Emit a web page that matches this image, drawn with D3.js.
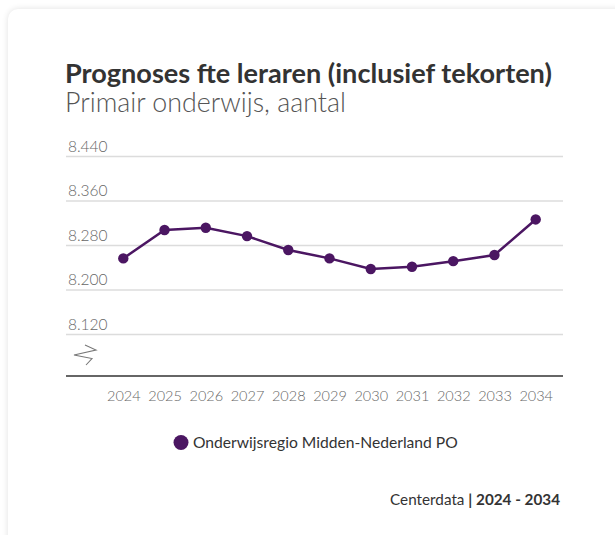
<!DOCTYPE html>
<html>
<head>
<meta charset="utf-8">
<script src="https://cdn.jsdelivr.net/npm/d3@7"></script>
<style>
  html, body { margin: 0; padding: 0; background: #ffffff; width: 615px; height: 535px; overflow: hidden; }
  #card { position: absolute; left: 8px; top: 9px; width: 640px; height: 560px; background: #fff;
          border-radius: 10px; box-shadow: 0 0 6px rgba(0,0,0,0.12); }
  svg { position: absolute; left: 0; top: 0; }
</style>
</head>
<body>
<div id="card"></div>
<svg id="chart" width="615" height="535"></svg>
<script>
const years = ["2024","2025","2026","2027","2028","2029","2030","2031","2032","2033","2034"];
const values = [8256, 8307, 8311, 8296, 8271, 8256, 8237, 8241, 8251, 8262, 8326];
const yTicks = [8120, 8200, 8280, 8360, 8440];
const seriesName = "Onderwijsregio Midden-Nederland PO";
const title = "Prognoses fte leraren (inclusief tekorten)";
const subtitle = "Primair onderwijs, aantal";
const sourceText = "Centerdata";
const periodText = "2024 - 2034";

const FONT = "'Source Sans Pro', Lato, 'Noto Sans', sans-serif";
const lineColor = "#4b1662";

const svg = d3.select("#chart");

function fitText(sel, target) {
  const w = sel.node().getComputedTextLength();
  const fs = parseFloat(sel.attr("font-size"));
  sel.attr("font-size", (fs * target / w).toFixed(2));
}

// Titles
const t = svg.append("text").attr("x", 65).attr("y", 83)
  .attr("font-family", FONT).attr("font-weight", 700).attr("font-size", 23)
  .attr("fill", "#333333").text(title);
fitText(t, 487);
const st = svg.append("text").attr("x", 65).attr("y", 112)
  .attr("font-family", FONT).attr("font-weight", 300).attr("font-size", 23)
  .attr("fill", "#555555").text(subtitle);
fitText(st, 281);

// Scales
const x = d3.scalePoint().domain(years).range([123.3, 535.7]);
const y = d3.scaleLinear().domain([8044.6, 8440]).range([376, 156]);
const left = 66, right = 563;

// Grid + y labels
const yAxis = d3.axisLeft(y).tickValues(yTicks).tickSize(-(right - left))
  .tickFormat(d => d3.format(",")(d).replace(",", "."));
const gy = svg.append("g").attr("transform", `translate(${left},0)`).call(yAxis);
gy.select(".domain").remove();
gy.selectAll(".tick line").attr("stroke", "#dcdcdc").attr("stroke-width", 1.5);
gy.selectAll(".tick text").attr("x", 2).attr("y", -5).attr("dy", 0).attr("text-anchor", "start")
  .attr("font-family", FONT).attr("font-weight", 300).attr("font-size", 15.5).attr("fill", "#666666");

// x axis baseline + labels
const xAxis = d3.axisBottom(x).tickSize(0).tickPadding(15);
const gx = svg.append("g").attr("transform", `translate(0,${y.range()[0]})`).call(xAxis);
gx.select(".domain").remove();
gx.append("line").attr("x1", left).attr("x2", right).attr("y1", 0).attr("y2", 0)
  .attr("stroke", "#333333").attr("stroke-width", 1.5);
gx.selectAll(".tick text").attr("font-family", FONT).attr("font-weight", 300)
  .attr("font-size", 14.5).attr("fill", "#666666");

// axis break symbol
svg.append("polyline")
  .attr("points", "85,345 96,350 74,355 92,358.5 86,365")
  .attr("fill", "none").attr("stroke", "#777").attr("stroke-width", 1.1);

// line
const line = d3.line().x((d, i) => x(years[i])).y(d => y(d));
svg.append("path").datum(values).attr("d", line)
  .attr("fill", "none").attr("stroke", lineColor).attr("stroke-width", 2.5);
svg.selectAll("circle.pt").data(values).join("circle").attr("class", "pt")
  .attr("cx", (d, i) => x(years[i])).attr("cy", d => y(d)).attr("r", 5.2)
  .attr("fill", lineColor);

// legend
svg.append("circle").attr("cx", 181).attr("cy", 442.5).attr("r", 7.5).attr("fill", lineColor);
const lg = svg.append("text").attr("x", 193).attr("y", 448)
  .attr("font-family", FONT).attr("font-weight", 400).attr("font-size", 15)
  .attr("fill", "#333333").text(seriesName);
fitText(lg, 265);

// footer
const ft = svg.append("text").attr("x", 560).attr("y", 505).attr("text-anchor", "end")
  .attr("font-family", FONT).attr("font-size", 14.5).attr("fill", "#333333");
ft.append("tspan").attr("font-weight", 400).text(sourceText + " ");
ft.append("tspan").attr("font-weight", 700).text("| " + periodText);
fitText(ft, 170);
</script>
</body>
</html>
